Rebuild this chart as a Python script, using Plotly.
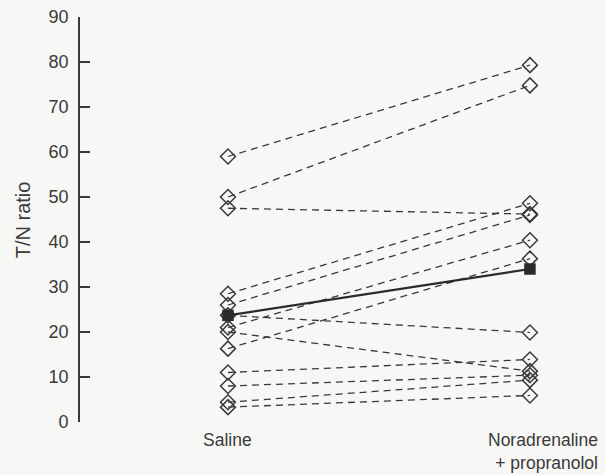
import plotly.graph_objects as go

# Per-animal T/N ratios (saline -> noradrenaline + propranolol)
saline = [59.0, 50.0, 47.5, 28.5, 26.0, 23.7, 21.0, 20.0, 16.3, 11.0, 8.0, 4.4, 3.3]
nor_prop = [79.3, 74.8, 46.2, 48.6, 46.0, 19.9, 40.4, 11.3, 36.3, 13.9, 10.4, 9.3, 5.9]
# Group means
mean_saline = 23.7
mean_nor_prop = 34.0

categories = ["Saline", "Noradrenaline<br>+ propranolol"]
y_ticks = [0, 10, 20, 30, 40, 50, 60, 70, 80, 90]

ink = "#3a3a3a"
fig = go.Figure()

for a, b in zip(saline, nor_prop):
    fig.add_trace(go.Scatter(
        x=[0, 1], y=[a, b], mode="lines+markers",
        line=dict(color=ink, width=1.3, dash="7px,5px"),
        marker=dict(symbol="diamond-open", size=11.5, color=ink,
                    line=dict(width=1.5, color=ink)),
        showlegend=False, hoverinfo="skip"))

fig.add_trace(go.Scatter(
    x=[0, 1], y=[mean_saline, mean_nor_prop], mode="lines+markers",
    line=dict(color="#2a2a2a", width=2.2),
    marker=dict(symbol="square", size=11.5, color="#2a2a2a"),
    showlegend=False, hoverinfo="skip"))

fig.update_layout(
    width=606, height=475,
    margin=dict(l=80, r=6, t=17, b=53),
    paper_bgcolor="#f7f7f5", plot_bgcolor="#f7f7f5",
    font=dict(family="Liberation Sans, Arial, sans-serif", size=18, color=ink),
    xaxis=dict(range=[-0.49, 1.232], showline=False, showgrid=False,
               zeroline=False, showticklabels=False, ticks=""),
    yaxis=dict(range=[0, 90], tickvals=y_ticks, showline=True,
               linecolor=ink, linewidth=1.6, ticks="inside", ticklen=10,
               tickwidth=1.6, tickcolor=ink, showgrid=False, zeroline=False,
               ticklabelstandoff=6, tickfont=dict(size=18, color=ink)),
    annotations=[
        dict(text=categories[0], x=0, xref="x", y=-0.0148, yref="paper",
             xanchor="center", yanchor="top", showarrow=False,
             font=dict(size=17.5, color=ink)),
        dict(text=categories[1], x=1.0, xref="paper", y=-0.0148, yref="paper",
             xanchor="right", yanchor="top", align="right", showarrow=False,
             font=dict(size=17.5, color=ink)),
        dict(text="T/N ratio", x=-0.11, xref="paper", y=0.5, yref="paper",
             xanchor="center", yanchor="middle", textangle=-90,
             showarrow=False, font=dict(size=20, color=ink)),
    ],
)

fig.write_html("out.html")
